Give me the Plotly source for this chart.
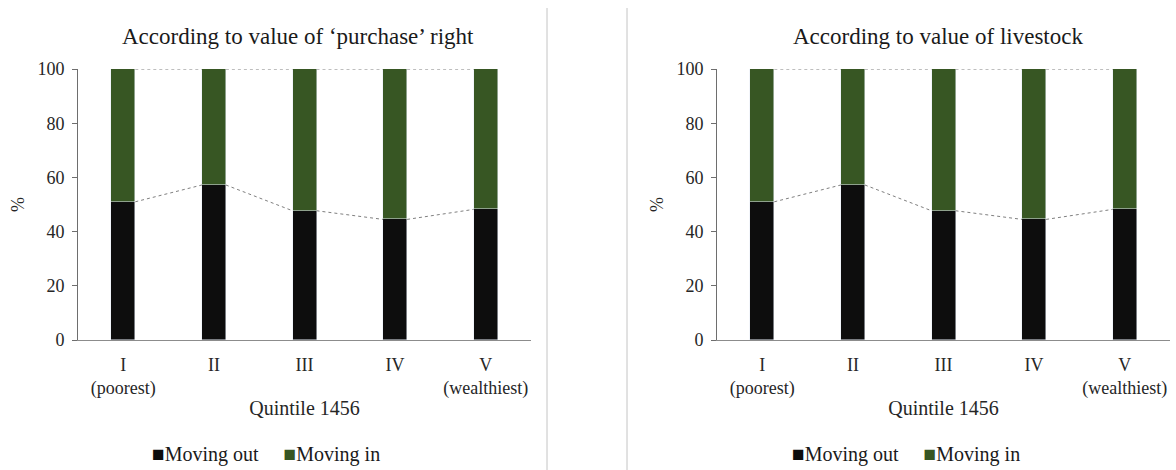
import plotly.graph_objects as go

quintiles = ["I<br>(poorest)", "II", "III", "IV", "V<br>(wealthiest)"]
moving_out_purchase = [51.0, 57.2, 47.7, 44.5, 48.2]
moving_in_purchase = [49.0, 42.8, 52.3, 55.5, 51.8]
moving_out_livestock = [51.0, 57.2, 47.7, 44.5, 48.2]
moving_in_livestock = [49.0, 42.8, 52.3, 55.5, 51.8]
panel_titles = ["According to value of \u2018purchase\u2019 right", "According to value of livestock"]
y_ticks = [0, 20, 40, 60, 80, 100]

BLACK = "#0d0d0d"
GREEN = "#375623"
FONT = "Liberation Serif"
TXT = "#262626"
BAR_W = 0.265

W, H = 1176, 470
fig = go.Figure()

panels = [
    (moving_out_purchase, moving_in_purchase, "x", "y"),
    (moving_out_livestock, moving_in_livestock, "x2", "y2"),
]
xpos = list(range(len(quintiles)))

for out_vals, in_vals, xa, ya in panels:
    fig.add_trace(go.Bar(x=xpos, y=out_vals, name="Moving out", marker_color=BLACK,
                         width=BAR_W, xaxis=xa, yaxis=ya, showlegend=False))
    fig.add_trace(go.Bar(x=xpos, y=in_vals, name="Moving in", marker_color=GREEN,
                         width=BAR_W, xaxis=xa, yaxis=ya, showlegend=False))
    # series lines (connect segment tops between adjacent bars)
    totals = [o + i for o, i in zip(out_vals, in_vals)]
    for level in (out_vals, totals):
        lx, ly = [], []
        for k in range(len(level) - 1):
            lx += [xpos[k] + BAR_W / 2, xpos[k + 1] - BAR_W / 2, None]
            ly += [level[k], level[k + 1], None]
        fig.add_trace(go.Scatter(x=lx, y=ly, mode="lines", xaxis=xa, yaxis=ya,
                                 line=dict(color="#7f7f7f", width=1, dash="dot"),
                                 showlegend=False, hoverinfo="skip"))

ydom = [1 - 340 / H, 1 - 69 / H]
xdoms = [[78 / W, 531 / W], [717 / W, 1170 / W]]

axis_common_x = dict(range=[-0.5, 4.5], tickvals=xpos, ticktext=quintiles, showline=True,
                     linecolor="#8c8c8c", linewidth=1, ticks="", showgrid=False, zeroline=False,
                     tickfont=dict(family=FONT, size=18, color=TXT), ticklabelstandoff=8,
                     automargin=False,
                     title=dict(text="Quintile 1456", font=dict(family=FONT, size=20, color=TXT), standoff=2))
axis_common_y = dict(range=[0, 100], tickvals=y_ticks, showline=True, linecolor="#6e6e6e", linewidth=1,
                     ticks="outside", ticklen=5, tickcolor="#6e6e6e", showgrid=False, zeroline=False,
                     tickfont=dict(family=FONT, size=18, color=TXT), ticklabelstandoff=4,
                     automargin=False,
                     title=dict(text="%", font=dict(family=FONT, size=18, color=TXT), standoff=8))

fig.update_layout(
    width=W, height=H, barmode="stack", bargap=0,
    margin=dict(l=0, r=0, t=0, b=0),
    paper_bgcolor="white", plot_bgcolor="white",
    xaxis=dict(domain=xdoms[0], anchor="y", **axis_common_x),
    yaxis=dict(domain=ydom, anchor="x", **axis_common_y),
    xaxis2=dict(domain=xdoms[1], anchor="y2", **axis_common_x),
    yaxis2=dict(domain=ydom, anchor="x2", **axis_common_y),
)

annotations = []
NB = "\u00a0"
for k, t in enumerate(panel_titles):
    cx = (xdoms[k][0] + xdoms[k][1]) / 2 - 6 / W
    annotations.append(dict(text=t, x=cx, y=1 - 37 / H, xref="paper", yref="paper",
                            showarrow=False, xanchor="center", yanchor="middle",
                            font=dict(family=FONT, size=23, color="#1a1a1a")))
    legend_txt = (f"<span style='color:{BLACK};font-size:21px'>\u25a0</span>Moving out{NB * 5}"
                  f"<span style='color:{GREEN};font-size:21px'>\u25a0</span>Moving in")
    annotations.append(dict(text=legend_txt, x=cx - 32 / W, y=1 - 454 / H, xref="paper", yref="paper",
                            showarrow=False, xanchor="center", yanchor="middle",
                            font=dict(family=FONT, size=20, color="#1a1a1a")))
fig.update_layout(annotations=annotations)

shapes = []
for px in (547, 627):
    shapes.append(dict(type="line", xref="paper", yref="paper", x0=px / W, x1=px / W,
                       y0=0, y1=1 - 8 / H, line=dict(color="#c4c4c4", width=1)))
fig.update_layout(shapes=shapes)

fig.write_html("out.html", config={"displayModeBar": False},
               post_script="document.body.style.margin='0';document.body.style.overflow='hidden';")
